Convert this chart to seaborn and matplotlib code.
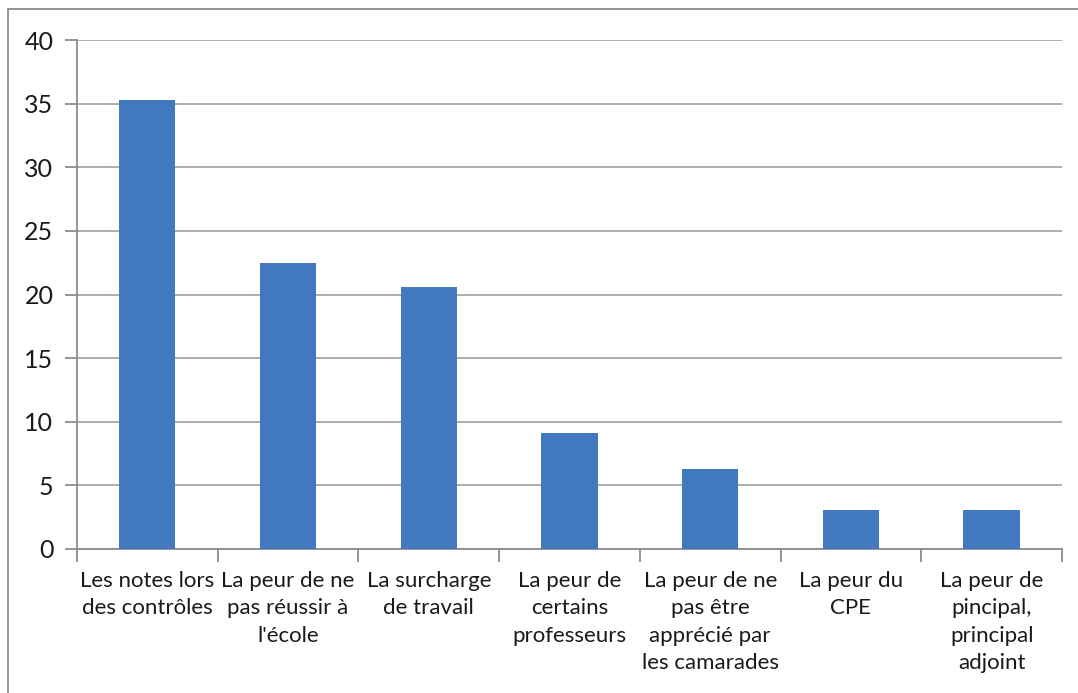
import matplotlib
matplotlib.use("Agg")
import matplotlib.pyplot as plt
import seaborn as sns
import pandas as pd
from matplotlib.lines import Line2D

# Données du graphique
categories = [
    "Les notes lors\ndes contrôles",
    "La peur de ne\npas réussir à\nl'école",
    "La surcharge\nde travail",
    "La peur de\ncertains\nprofesseurs",
    "La peur de ne\npas être\napprécié par\nles camarades",
    "La peur du\nCPE",
    "La peur de\npincipal,\nprincipal\nadjoint",
]
valeurs = [35.3, 22.5, 20.6, 9.1, 6.3, 3.1, 3.1]
yticks = [0, 5, 10, 15, 20, 25, 30, 35, 40]

data = pd.DataFrame({"cause": categories, "valeur": valeurs})

sns.set_style("white")
plt.rcParams['font.family'] = ['Lato', 'DejaVu Sans']

fig = plt.figure(figsize=(10.78, 6.93), dpi=100)
ax = fig.add_axes([77 / 1078, 1 - 549 / 693, (1062 - 77) / 1078, (549 - 40) / 693])

sns.barplot(data=data, x="cause", y="valeur", color="#4178BE", width=0.4,
            saturation=1, linewidth=0, ax=ax, zorder=3)

grey = "#8C8C8C"
ax.set_ylim(0, 40)
ax.set_xlim(-0.5, len(categories) - 0.5)
ax.set_yticks(yticks)
ax.yaxis.grid(True, color="#A6A6A6", linewidth=1.3, zorder=0)
ax.set_axisbelow(True)
for s in ["top", "right"]:
    ax.spines[s].set_visible(False)
for s in ["left", "bottom"]:
    ax.spines[s].set_color(grey)
    ax.spines[s].set_linewidth(1.3)

ax.set_xlabel("")
ax.set_ylabel("")
ax.tick_params(axis="y", length=9, width=1.3, color=grey, labelsize=18,
               labelcolor="#1A1A1A", pad=8, left=True)
ax.tick_params(axis="x", length=0, labelsize=16, labelcolor="#1A1A1A", pad=16)
ax.set_xticks(range(len(categories)))
ax.set_xticklabels(categories, linespacing=1.45, va="top", ha="center")
ax.set_xticks([i - 0.5 for i in range(len(categories) + 1)], minor=True)
ax.tick_params(axis="x", which="minor", length=9, width=1.3, color=grey, bottom=True)

# Cadre extérieur
fig.add_artist(Line2D([8 / 1078, 8 / 1078], [0, 1 - 9 / 693], color=grey, linewidth=1.3))
fig.add_artist(Line2D([8 / 1078, 1], [1 - 9 / 693, 1 - 9 / 693], color=grey, linewidth=1.3))

fig.savefig("out.png", dpi=100)
